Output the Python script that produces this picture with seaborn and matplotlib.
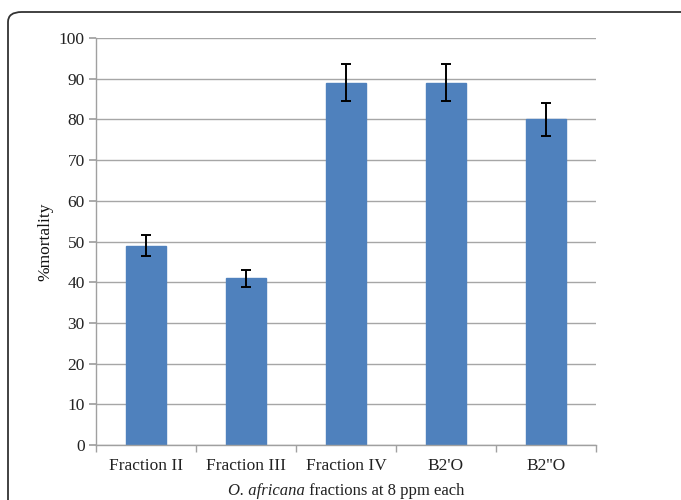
import matplotlib
matplotlib.use("Agg")
import matplotlib.pyplot as plt
from matplotlib.patches import FancyBboxPatch
import seaborn as sns
import pandas as pd
import numpy as np

categories = ["Fraction II", "Fraction III", "Fraction IV", "B2'O", "B2''O"]
mortality = [49, 41, 89, 89, 80]
errors = [2.5, 2.1, 4.5, 4.5, 4.1]
y_ticks = [0, 10, 20, 30, 40, 50, 60, 70, 80, 90, 100]

sns.set_theme(style="white")
plt.rcParams["font.family"] = ["Liberation Serif", "DejaVu Serif"]

df = pd.DataFrame({"fraction": categories, "mortality": mortality})

fig = plt.figure(figsize=(6.81, 5.0), dpi=100)
fig.patch.set_facecolor("white")

# rounded frame around the panel
frame = FancyBboxPatch((8 / 681, -0.2), 1.2, 1.2 - 12 / 500,
                       boxstyle="round,pad=0,rounding_size=0.02",
                       transform=fig.transFigure, facecolor="none",
                       edgecolor="#333333", linewidth=1.3, clip_on=False)
fig.patches.append(frame)

ax = fig.add_axes([96 / 681, 1 - 445 / 500, 500 / 681, 407 / 500])
ax.set_facecolor("white")

sns.barplot(data=df, x="fraction", y="mortality", color="#4F81BD",
            saturation=1, width=0.4, errorbar=None, ax=ax)
for p in ax.patches:
    p.set_edgecolor("#4F81BD")

ax.errorbar(np.arange(len(categories)), mortality, yerr=errors, fmt="none",
            ecolor="black", elinewidth=1.4, capsize=3.5, capthick=1.4, zorder=5)

ax.set_ylim(0, 100)
ax.set_xlim(-0.5, len(categories) - 0.5)
ax.set_yticks(y_ticks)
ax.yaxis.grid(True, color="#a6a6a6", linewidth=1.0)
ax.set_axisbelow(True)

for side in ["top", "right"]:
    ax.spines[side].set_visible(False)
for side in ["left", "bottom"]:
    ax.spines[side].set_color("#a0a0a0")
    ax.spines[side].set_linewidth(1.0)

ax.tick_params(axis="y", which="both", left=True, length=5, color="#a0a0a0",
               labelsize=12.5, pad=3, labelcolor="#222222")
ax.set_xticks(np.arange(len(categories)))
ax.set_xticklabels(categories)
ax.tick_params(axis="x", which="major", bottom=False, length=0, labelsize=12.5,
               pad=9, labelcolor="#222222")
ax.set_xticks(np.arange(-0.5, len(categories)), minor=True)
ax.tick_params(axis="x", which="minor", bottom=True, length=5, color="#a0a0a0")

ax.set_ylabel("%mortality", fontsize=12.5, color="#111111", labelpad=4)
ax.set_xlabel("")

# axis title: italic species name followed by roman text
title_y = 1 - 491 / 500
t1 = fig.text(0.0, title_y, "O. africana", fontsize=12, style="italic",
              color="#222222", ha="left", va="center")
t2 = fig.text(0.0, title_y, " fractions at 8 ppm each", fontsize=12,
              color="#222222", ha="left", va="center")
fig.canvas.draw()
r = fig.canvas.get_renderer()
w1 = t1.get_window_extent(r).width
w2 = t2.get_window_extent(r).width
cx = (96 + 250) * fig.dpi / 100
x0 = cx - (w1 + w2) / 2
t1.set_x(x0 / fig.bbox.width)
t2.set_x((x0 + w1) / fig.bbox.width)

fig.savefig("out.png", dpi=100)
